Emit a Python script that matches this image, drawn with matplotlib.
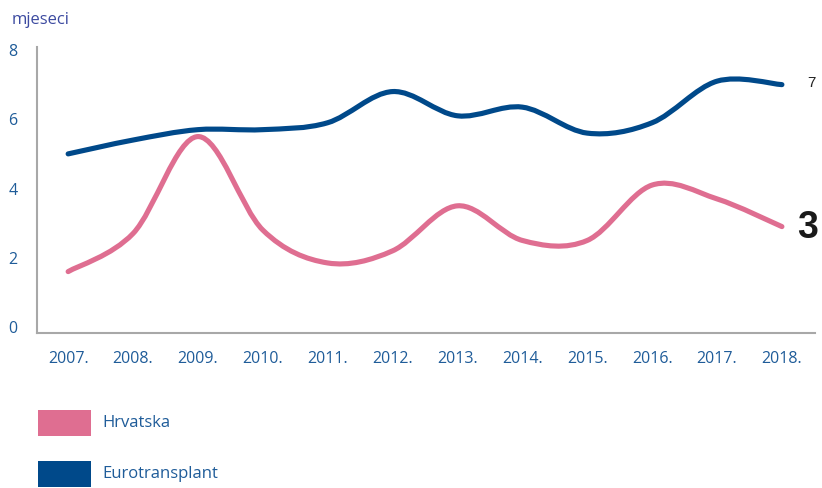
import matplotlib
matplotlib.use("Agg")
import matplotlib.pyplot as plt
from matplotlib.path import Path
from matplotlib.patches import PathPatch, Rectangle
import numpy as np

years = [2007, 2008, 2009, 2010, 2011, 2012, 2013, 2014, 2015, 2016, 2017, 2018]
year_labels = [f"{y}." for y in years]
hrvatska = [1.6, 2.7, 5.5, 2.8, 1.85, 2.2, 3.5, 2.5, 2.5, 4.1, 3.7, 2.9]
eurotransplant = [5.0, 5.4, 5.7, 5.7, 5.9, 6.8, 6.1, 6.35, 5.6, 5.9, 7.1, 7.0]
yticks = [0, 2, 4, 6, 8]
series_names = ["Hrvatska", "Eurotransplant"]
end_labels = ["3", "7"]

PINK = "#DF6E91"
BLUE = "#00498A"
TICK_COL = "#1F5C99"
TITLE_COL = "#3C4AA0"

plt.rcParams['font.family'] = ['Open Sans', 'DejaVu Sans']

fig = plt.figure(figsize=(8.22, 4.88), dpi=100)
W, H = 822, 488
ax = fig.add_axes([37 / W, (H - 333) / H, (815 - 37) / W, (333 - 47) / H])
ax.set_xlim(2006.52, 2018.51)
ax.set_ylim(-0.173, 8.087)


def smooth_path(xs, ys):
    pts = list(zip(xs, ys))
    verts = [pts[0]]
    codes = [Path.MOVETO]
    n = len(pts)
    for i in range(n - 1):
        p0 = pts[i - 1] if i > 0 else pts[i]
        p1 = pts[i]
        p2 = pts[i + 1]
        p3 = pts[i + 2] if i + 2 < n else pts[i + 1]
        c1 = (p1[0] + (p2[0] - p0[0]) / 6, p1[1] + (p2[1] - p0[1]) / 6)
        c2 = (p2[0] - (p3[0] - p1[0]) / 6, p2[1] - (p3[1] - p1[1]) / 6)
        verts += [c1, c2, p2]
        codes += [Path.CURVE4] * 3
    return Path(verts, codes)


for vals, col in [(hrvatska, PINK), (eurotransplant, BLUE)]:
    patch = PathPatch(smooth_path(years, vals), facecolor="none", edgecolor=col,
                      lw=3.7, capstyle="round", joinstyle="round", zorder=3)
    ax.add_patch(patch)

for s in ["top", "right"]:
    ax.spines[s].set_visible(False)
for s in ["left", "bottom"]:
    ax.spines[s].set_color("#A8A8A8")
    ax.spines[s].set_linewidth(1.5)

ax.set_xticks(years)
ax.set_xticklabels(year_labels)
ax.set_yticks(yticks)
ax.tick_params(axis="both", length=0, labelsize=11.5, labelcolor=TICK_COL)
ax.tick_params(axis="x", pad=13)
ax.tick_params(axis="y", pad=14)

fig.text(12 / W, 1 - 20 / H, "mjeseci", fontsize=12, color=TITLE_COL,
         ha="left", va="center")

# end labels
ax.annotate(end_labels[1], xy=(years[-1], eurotransplant[-1]), xytext=(18, 1),
            textcoords="offset points", fontsize=11, color="#222222",
            ha="left", va="center", family=["Liberation Sans", "DejaVu Sans"])
ax.annotate(end_labels[0], xy=(years[-1], hrvatska[-1]), xytext=(11, -1),
            textcoords="offset points", fontsize=27, fontweight="bold",
            color="#1A1A1A", ha="left", va="center",
            family=["Liberation Sans", "DejaVu Sans"])

# legend
for (name, col, y0) in [(series_names[0], PINK, 410), (series_names[1], BLUE, 461)]:
    fig.patches.append(Rectangle((38 / W, 1 - (y0 + 26) / H), 53 / W, 26 / H,
                                 transform=fig.transFigure, facecolor=col,
                                 edgecolor="none"))
    fig.text(102 / W, 1 - (y0 + 13) / H, name, fontsize=12, color=TICK_COL,
             ha="left", va="center")

fig.savefig("out.png", dpi=100)
